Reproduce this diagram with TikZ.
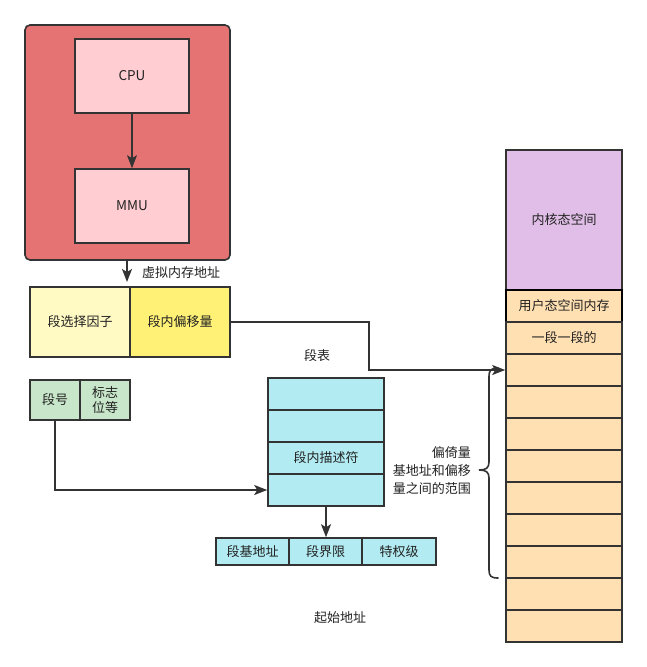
\documentclass[tikz,border=0pt]{standalone}
\usepackage{fontspec}
\setmainfont{Noto Sans CJK SC}
\usetikzlibrary{arrows.meta}
\definecolor{ln}{HTML}{333333}
\definecolor{txt}{HTML}{222222}
\definecolor{redc}{HTML}{E57373}
\definecolor{pinkc}{HTML}{FFCDD2}
\definecolor{ylw1}{HTML}{FFF9C4}
\definecolor{ylw2}{HTML}{FFF176}
\definecolor{grn}{HTML}{C8E6C9}
\definecolor{blu}{HTML}{B2EBF2}
\definecolor{pur}{HTML}{E1BEE7}
\definecolor{pch}{HTML}{FFE0B2}
\begin{document}
\begin{tikzpicture}[x=1pt,y=-1pt,
  every node/.style={font=\fontsize{13}{16}\selectfont, text=txt, inner sep=0pt},
  box/.style={draw=ln, line width=1.6pt, minimum width=#1, anchor=center},
  conn/.style={draw=ln, line width=1.6pt},
  arr/.style={conn, -{Stealth[length=13pt,width=10pt,inset=3pt]}},
  lbl/.style={text=txt}]
\useasboundingbox[fill=white] (0,0) rectangle (647,667);
% container
\node[box=205pt, fill=redc, minimum height=235pt, rounded corners=5pt] (cont) at (127.5,142.5) {};
\node[box=114pt, fill=pinkc, minimum height=74pt, font=\fontsize{13.5}{15}\selectfont] (cpu) at (132,76) {CPU};
\node[box=114pt, fill=pinkc, minimum height=74pt, font=\fontsize{13.5}{15}\selectfont] (mmu) at (132,206) {MMU};
\draw[arr] (cpu.south) -- (mmu.north);
\coordinate (vtip) at (127,282);
\draw[arr] (cont.south -| vtip) -- (vtip);
\node[lbl] (vlabel) at (181,273) {虚拟内存地址};
% yellow
\node[box=100pt, fill=ylw1, minimum height=70pt] (sel) at (80,322) {段选择因子};
\node[box=100pt, fill=ylw2, minimum height=70pt] (off) at (180,322) {段内偏移量};
% green
\node[box=50pt, fill=grn, minimum height=40pt] (sno) at (55,400) {段号};
\node[box=50pt, fill=grn, minimum height=40pt, align=center, font=\fontsize{13}{15}\selectfont] (flag) at (105,400) {标志\\位等};
% table
\node[lbl] (tlabel) at (317,356) {段表};
\node[box=116pt, fill=blu, minimum height=32pt] (t1) at (326,394) {};
\node[box=116pt, fill=blu, minimum height=32pt] (t2) at (326,426) {};
\node[box=116pt, fill=blu, minimum height=32pt] (t3) at (326,458) {段内描述符};
\node[box=116pt, fill=blu, minimum height=32pt] (t4) at (326,490) {};
\draw[arr] (sno.south) |- (t4.west);
% bottom row
\node[box=73pt, fill=blu, minimum height=27pt] (b1) at (252.5,551.5) {段基地址};
\node[box=73pt, fill=blu, minimum height=27pt] (b2) at (325.5,551.5) {段界限};
\node[box=74pt, fill=blu, minimum height=27pt] (b3) at (399,551.5) {特权级};
\draw[arr] (t4.south) -- (t4.south |- b2.north);
\node[lbl] (start) at (340,618) {起始地址};
% memory column
\node[box=116pt, fill=pur, minimum height=140pt] (kern) at (564,220) {内核态空间};
\node[box=116pt, fill=pch, minimum height=32pt, draw=black] (user) at (564,306) {用户态空间内存};
\node[box=116pt, fill=pch, minimum height=32pt] (seg) at (564,338) {一段一段的};
\foreach \i in {1,...,9}{
  \node[box=116pt, fill=pch, minimum height=32pt] (r\i) at (564,{370+32*(\i-1)}) {};
}
\draw[arr] (off.east) -- ++(138,0) |- (r1.west);
% brace
\draw[conn, line cap=round] (498,368) .. controls (491,368) and (489,370) .. (489,377) -- (489,462)
  .. controls (489,468) and (486,470) .. (479,470)
  .. controls (486,470) and (489,472) .. (489,478) -- (489,570)
  .. controls (489,576) and (491,578) .. (498,578);
\node[lbl, align=right, anchor=east, font=\fontsize{13}{18}\selectfont] (brtext) at (471,471) {偏倚量\\基地址和偏移\\量之间的范围};
\end{tikzpicture}
\end{document}
